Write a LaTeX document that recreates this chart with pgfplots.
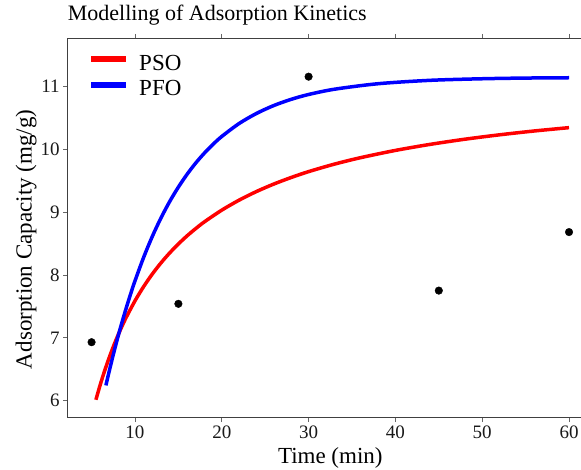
\documentclass[border=0pt]{standalone}
\usepackage{pgfplots}
\pgfplotsset{compat=1.18}
\usepackage{fontspec}
\setmainfont{Liberation Serif}
\begin{document}
\begin{tikzpicture}
\path[use as bounding box] (0pt,0pt) rectangle (581pt,470pt);
\begin{axis}[
  at={(67.7pt,52.3pt)}, anchor=south west,
  scale only axis, width=525.2pt, height=379.4pt,
  xmin=2.25, xmax=62.75, ymin=5.73, ymax=11.76,
  xtick={10,20,30,40,50,60}, ytick={6,7,8,9,10,11},
  tick align=outside, major tick length=4.5pt,
  tick style={color=black!60, line width=0.7pt},
  axis line style={black!75, line width=0.8pt},
  /pgf/number format/assume math mode=true,
  ticklabel style={font=\fontsize{19}{19}\selectfont, text=black!90},
  title={Modelling of Adsorption Kinetics},
  title style={at={([yshift=11.8pt]rel axis cs:0,1)}, anchor=base west, inner sep=0pt, font=\fontsize{22}{24}\selectfont},
  xlabel={Time (min)},
  xlabel style={at={([yshift=-45.6pt]rel axis cs:0.5,0)}, anchor=base, inner sep=0pt, font=\fontsize{23}{25}\selectfont},
  ylabel={Adsorption Capacity (mg/g)},
  ylabel style={at={([xshift=-36pt]rel axis cs:0,0.47)}, anchor=base, inner sep=0pt, font=\fontsize{23}{25}\selectfont},
  legend image code/.code={\draw[#1, line width=6pt] (0pt,8.5pt) -- (35pt,8.5pt);},
  legend style={at={(axis description cs:0.0387,0.9573)}, anchor=north west, draw=none, fill=none,
    inner xsep=0pt, inner ysep=0pt, row sep=0pt,
    nodes={inner sep=0pt, text height=15.5pt, text depth=10.1pt},
    font=\fontsize{23}{25}\selectfont,
    /tikz/every odd column/.append style={column sep=10pt}},
  legend cell align=left,
]
\addplot[red, line width=3.5pt, no markers, smooth, line join=round] coordinates {
(5.5,6.015) (6,6.255) (6.5,6.473) (7,6.673) (7.5,6.857) (8,7.026) (8.5,7.182) (9,7.327)
(10,7.587) (11,7.814) (12,8.014) (13,8.191) (14,8.349) (15,8.491) (16,8.620) (17,8.736)
(18,8.843) (20,9.029) (22,9.188) (24,9.325) (26,9.444) (28,9.548) (30,9.641) (33,9.761)
(36,9.863) (40,9.978) (44,10.074) (48,10.156) (52,10.226) (56,10.287) (60,10.340)};
\addlegendentry{PSO}
\addplot[blue, line width=3.5pt, no markers, smooth, line join=round] coordinates {
(6.65,6.243) (7,6.450) (7.5,6.732) (8,6.996) (8.5,7.244) (9,7.477) (9.5,7.697) (10,7.904)
(11,8.279) (12,8.612) (13,8.906) (14,9.166) (15,9.395) (16,9.598) (17,9.778) (18,9.936)
(19,10.076) (20,10.200) (22,10.406) (24,10.566) (26,10.692) (28,10.790) (30,10.867)
(33,10.951) (38,11.038) (44,11.092) (50,11.117) (55,11.128) (60,11.133)};
\addlegendentry{PFO}
\addplot[only marks, mark=*, mark size=3.8pt, black, forget plot] coordinates {
(5,6.93) (15,7.54) (30,11.15) (45,7.75) (60,8.68)};
\end{axis}
\end{tikzpicture}
\end{document}
